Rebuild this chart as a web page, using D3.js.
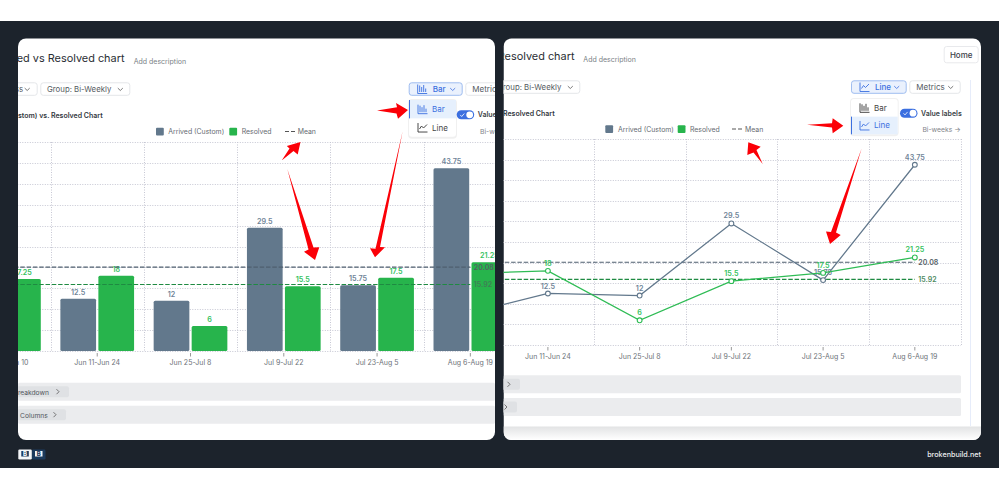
<!DOCTYPE html>
<html><head><meta charset="utf-8">
<script src="https://cdn.jsdelivr.net/npm/d3@7/dist/d3.min.js"></script>
<style>html,body{margin:0;padding:0;background:#fff;overflow:hidden}svg{display:block;font-family:Inter,"Noto Sans",sans-serif}</style>
</head><body><svg id="c" width="999" height="489"></svg>
<script>
const categories=["May 28-Jun 10","Jun 11-Jun 24","Jun 25-Jul 8","Jul 9-Jul 22","Jul 23-Aug 5","Aug 6-Aug 19"];
const arrived=[7,12.5,12,29.5,15.75,43.75];
const resolved=[17.25,18,6,15.5,17.5,21.25];
const arrivedMean=20.08, resolvedMean=15.92;
const yTicks=[0,5,10,15,20,25,30,35,40,45,50];
const SLATE="#62788c",GREEN="#27b44c",LABELG="#35c25e",BLUE="#3b6fe0",DARK="#1c232c",TXT="#5f6670",GRID="#c6c7d3";
const svg=d3.select("#c");
svg.append("rect").attr("y",21).attr("width",999).attr("height",447).attr("fill",DARK);
const defs=svg.append("defs");
const grad=defs.append("linearGradient").attr("id","sh").attr("x1",0).attr("x2",0).attr("y1",0).attr("y2",1);
grad.append("stop").attr("offset",0).attr("stop-color","#e2e3e4");grad.append("stop").attr("offset",1).attr("stop-color","#ffffff");

function text(g,x,y,s,o={}){return g.append("text").attr("x",x).attr("y",y).text(s)
  .attr("font-size",o.size||8).attr("font-weight",o.weight||400).attr("fill",o.fill||TXT).attr("text-anchor",o.anchor||"start");}
function btn(g,x,y,w,h,o={}){g.append("rect").attr("x",x+.5).attr("y",y+.5).attr("width",w-1).attr("height",h-1).attr("rx",2.5)
  .attr("fill",o.fill||"#fff").attr("stroke",o.stroke||"#e4e6e9");}
function chev(g,x,y,c){g.append("path").attr("d",`M${x-2.5},${y-1.2}L${x},${y+1.2}L${x+2.5},${y-1.2}`).attr("fill","none").attr("stroke",c||"#555").attr("stroke-width",.8);}
function barIcon(g,x,y,c){g.append("path").attr("d",`M${x},${y}V${y+9}H${x+9.5}M${x+2},${y+7.5}V${y+1}M${x+4},${y+7.5}V${y+2.5}M${x+6},${y+7.5}V${y+.5}M${x+8},${y+7.5}V${y+4}`).attr("fill","none").attr("stroke",c).attr("stroke-width",.9);}
function lineIcon(g,x,y,c){g.append("path").attr("d",`M${x},${y}V${y+9}H${x+9.5}M${x+1.5},${y+6}L${x+3.5},${y+3}L${x+5.5},${y+5}L${x+9},${y+1.5}`).attr("fill","none").attr("stroke",c).attr("stroke-width",.9);}
function arrow(g,pts){g.append("polygon").attr("points",pts.map(p=>p.join(",")).join(" ")).attr("fill","#fb0007");}

function panel(o){
  const cid="clip"+o.id;
  defs.append("clipPath").attr("id",cid).append("rect").attr("x",o.x0).attr("y",38.5).attr("width",o.x1-o.x0).attr("height",401.5).attr("rx",8);
  const g=svg.append("g").attr("clip-path",`url(#${cid})`);
  g.append("rect").attr("x",o.x0).attr("y",38).attr("width",o.x1-o.x0).attr("height",402).attr("fill","#fff");
  if(o.type==="line"){
    g.append("rect").attr("x",o.x0).attr("y",426.5).attr("width",o.x1-o.x0).attr("height",13.5).attr("fill","url(#sh)");
    g.append("line").attr("x1",970.5).attr("x2",970.5).attr("y1",80).attr("y2",426).attr("stroke","#e6ecfa");
  }
  const x=d3.scaleBand().domain(categories).range(o.xr);
  const y=d3.scaleLinear().domain([0,50]).range(o.yr);
  const cx=d=>x(d)+x.bandwidth()/2;
  // grid
  const gy=g.append("g").attr("transform",`translate(${o.xr[0]},0)`).call(d3.axisLeft(y).tickValues(yTicks).tickSize(-(o.xr[1]-o.xr[0])).tickFormat(""));
  gy.select(".domain").remove();
  gy.selectAll(".tick").attr("transform",d=>`translate(0,${Math.round(y(d))+.5})`);
  gy.selectAll("line").attr("stroke",GRID).attr("stroke-width",1).attr("stroke-dasharray","1 1.5");
  const edges=categories.map(c=>x(c)).concat(o.xr[1]);
  g.append("g").selectAll("line").data(edges).join("line").attr("x1",d=>Math.round(d)+.5).attr("x2",d=>Math.round(d)+.5).attr("y1",o.yr[1]).attr("y2",o.yr[0]).attr("stroke",GRID).attr("stroke-dasharray","1 1.5");
  // x axis
  const ax=g.append("g").attr("transform",`translate(0,${o.yr[0]+2})`).call(d3.axisBottom(x).tickSize(3.5).tickPadding(3.5));
  ax.select(".domain").remove();
  ax.selectAll("line").attr("stroke","#999");
  ax.selectAll("text").attr("font-size",7).attr("font-family","Inter").attr("fill","#6d7278");

  if(o.type==="bar"){
    const bw=35.7, gap=2.3;
    const s=[[arrived,SLATE,"#6f8498",-1],[resolved,GREEN,LABELG,1]];
    s.forEach(([vals,col,lab,side])=>{
      const bx=c=>side<0?cx(c)-gap/2-bw:cx(c)+gap/2;
      g.append("g").selectAll("rect").data(categories).join("rect")
        .attr("x",bx).attr("width",bw).attr("y",(c,i)=>y(vals[i])).attr("height",(c,i)=>y(0)-y(vals[i])).attr("rx",1.5).attr("fill",col);
      g.append("g").selectAll("text").data(categories).join("text")
        .attr("x",c=>bx(c)+bw/2).attr("y",(c,i)=>y(vals[i])-4).attr("text-anchor","middle").attr("font-size",7.2).attr("font-weight",600).attr("fill",lab).text((c,i)=>vals[i]);
    });
  }
  // mean lines
  const mx=cx(categories[5]);
  [[arrivedMean,"#4f5f6f","#555f66"],[resolvedMean,"#1f8a42",o.type==="bar"?"#3f7f55":"#4d8a60"]].forEach(([m,c,lc])=>{
    g.append("line").attr("x1",o.xr[0]).attr("x2",mx).attr("y1",y(m)).attr("y2",y(m)).attr("stroke",c).attr("stroke-width",1.15).attr("stroke-dasharray","4.5 1.8");
    text(g,mx+3.5,y(m)+2.5,m,{size:7,weight:600,fill:lc});
  });
  if(o.type==="line"){
    const ln=d3.line().x((d,i)=>cx(categories[i])).y(d=>y(d));
    [[arrived,SLATE,"#6f8498"],[resolved,"#2fbc55",LABELG]].forEach(([vals,col,lab])=>{
      g.append("path").attr("d",ln(vals)).attr("fill","none").attr("stroke",col).attr("stroke-width",1.25);
      g.append("g").selectAll("circle").data(categories).join("circle").attr("cx",cx).attr("cy",(c,i)=>y(vals[i])).attr("r",2.4).attr("fill","#fff").attr("stroke",col).attr("stroke-width",1.1);
      g.append("g").selectAll("text").data(categories).join("text").attr("x",cx).attr("y",(c,i)=>y(vals[i])-5).attr("text-anchor","middle").attr("font-size",7.2).attr("font-weight",600).attr("fill",lab).text((c,i)=>vals[i]);
    });
  }
  // header
  text(g,o.titleEnd,o.titleY,o.title,{size:10.9,fill:"#2a2e34",anchor:"end"});
  text(g,o.descX,o.titleY+2,"Add description",{size:7,fill:"#7a7f86"});
  btn(g,o.x0-60,o.btnY,o.g0End-o.x0+60,13.5);
  btn(g,o.groupX,o.btnY,o.groupEnd-o.groupX,13.5);
  text(g,o.groupEnd-83.3,o.btnY+9.6,"Group: Bi-Weekly",{size:7.8,fill:"#555b62"});
  chev(g,o.groupEnd-10,o.btnY+7);
  if(o.type==="bar"){text(g,o.x0-3,o.btnY+9.6,"ss",{size:7.8,fill:"#555b62"});chev(g,o.g0End-10.5,o.btnY+7);}
  // chart type button
  btn(g,o.typeX,o.btnY,o.typeW,13.5,{fill:"#eaf1fd",stroke:"#9fbdf0"});
  const label=o.type==="bar"?"Bar":"Line";
  (o.type==="bar"?barIcon:lineIcon)(g,o.typeX+9,o.btnY+2.2,BLUE);
  text(g,o.typeX+24,o.btnY+9.6,label,{size:8,weight:500,fill:BLUE});
  chev(g,o.typeX+o.typeW-10,o.btnY+7,BLUE);
  btn(g,o.metX,o.btnY,o.metW,13.5);
  text(g,o.metX+7,o.btnY+9.6,"Metrics",{size:8,fill:"#555b62"});
  chev(g,o.metX+o.metW-10,o.btnY+7);
  // subtitle
  text(g,o.subX,o.subY,o.sub,{size:7,weight:600,fill:"#33383e"});
  // toggle
  g.append("rect").attr("x",o.togX).attr("y",o.togY).attr("width",17.5).attr("height",9).attr("rx",4.5).attr("fill",BLUE);
  g.append("circle").attr("cx",o.togX+13).attr("cy",o.togY+4.5).attr("r",3.4).attr("fill","#fff");
  g.append("path").attr("d",`M${o.togX+3.5},${o.togY+4.6}l1.5,1.6l2.6,-3`).attr("fill","none").attr("stroke","#fff").attr("stroke-width",.8);
  text(g,o.togX+21,o.togY+7,"Value labels",{size:7,weight:600,fill:"#3a3f46"});
  // legend
  const lg=o.legend;
  g.append("rect").attr("x",lg[0]).attr("y",o.legY-3.8).attr("width",7.8).attr("height",7.8).attr("rx",1).attr("fill",SLATE);
  text(g,lg[1],o.legY+2.6,"Arrived (Custom)",{size:6.9,fill:"#666b72"});
  g.append("rect").attr("x",lg[2]).attr("y",o.legY-3.8).attr("width",7.8).attr("height",7.8).attr("rx",1).attr("fill",GREEN);
  text(g,lg[3],o.legY+2.6,"Resolved",{size:6.9,fill:"#666b72"});
  g.append("line").attr("x1",lg[4]).attr("x2",lg[4]+10).attr("y1",o.legY).attr("y2",o.legY).attr("stroke","#555").attr("stroke-dasharray","4 2");
  text(g,lg[5],o.legY+2.6,"Mean",{size:6.9,fill:"#666b72"});
  text(g,o.biX,o.legY+2.6,"Bi-weeks →",{size:6.8,fill:"#7f848a",anchor:o.biAnchor});
  // dropdown
  const dd=o.dd;
  g.append("rect").attr("x",dd.x-1).attr("y",dd.y-1).attr("width",dd.w+2).attr("height",dd.h+3).attr("rx",4).attr("fill","#000").attr("opacity",.06);
  g.append("rect").attr("x",dd.x).attr("y",dd.y).attr("width",dd.w).attr("height",dd.h).attr("rx",3).attr("fill","#fff");
  const rh=dd.h/2, active=o.type==="bar"?0:1;
  g.append("rect").attr("x",dd.x).attr("y",dd.y+active*rh).attr("width",dd.w).attr("height",rh).attr("fill","#e6f0fd");
  g.append("rect").attr("x",dd.x).attr("y",dd.y+active*rh).attr("width",1).attr("height",rh).attr("fill",BLUE);
  barIcon(g,dd.x+9,dd.y+rh/2-4.5,active===0?BLUE:"#333");
  lineIcon(g,dd.x+9,dd.y+rh*1.5-4.5,active===1?BLUE:"#333");
  text(g,dd.x+23,dd.y+rh/2+3,"Bar",{size:8,fill:active===0?BLUE:"#444"});
  text(g,dd.x+23,dd.y+rh*1.5+3,"Line",{size:8,fill:active===1?BLUE:"#444"});
  // bottom bars
  o.rows.forEach(r=>{
    g.append("rect").attr("x",o.x0).attr("y",r.y).attr("width",o.rowEnd-o.x0).attr("height",18).attr("rx",1.5).attr("fill","#ebecee");
    g.append("rect").attr("x",o.x0-20).attr("y",r.y+3.5).attr("width",r.end-o.x0+20).attr("height",11).attr("rx",2).attr("fill","#dfe1e4");
    if(r.t) text(g,r.tx,r.y+11.8,r.t,{size:6.7,fill:"#50555c"});
    g.append("path").attr("d",`M${r.end-12.5},${r.y+6.5}l2.5,2.5l-2.5,2.5`).attr("fill","none").attr("stroke","#555").attr("stroke-width",.8);
  });
  if(o.home){btn(g,943.7,46,35,17.3,{stroke:"#e8e9ec"});text(g,961.2,57.5,"Home",{size:8,weight:500,fill:"#3c4148",anchor:"middle"});}
  o.arrows.forEach(a=>arrow(g,a));
}

panel({id:"L",type:"bar",x0:18,x1:495,xr:[-42.7,517],yr:[351,142],title:"Created vs Resolved chart",titleEnd:124.5,titleY:61.5,descX:133.7,
  btnY:82.3,g0End:37.7,groupX:40.3,groupEnd:130.3,typeX:408.7,typeW:54,metX:465.3,metW:56,
  sub:"stom) vs. Resolved Chart",subX:18,subY:118,togX:456.7,togY:110.3,legY:131.5,legend:[156,168.3,229.3,241.7,285,297.7],biX:480,biAnchor:"start",
  dd:{x:409,y:100,w:47,h:36.7},rowEnd:495,
  rows:[{y:382.7,end:69,t:"Breakdown",tx:13.5},{y:405.7,end:66,t:"Columns",tx:20}],
  arrows:[[[377,110.6],[397,107.3],[396,103],[408,110],[398,118.7],[396.5,113.6]],
    [[300.5,142],[297.7,154.5],[293.5,151],[281.7,160.5],[289.5,148.5],[286.8,146]],
    [[287.3,169],[313.5,247.5],[319.3,247.3],[315,260],[304,251.7],[308.5,249.5]],
    [[402.7,131],[380,247],[385,247.3],[375,257.3],[370,248.3],[375.5,248.7]]]});
panel({id:"R",type:"line",x0:503.5,x1:981,xr:[410.3,960.7],yr:[345,139],home:true,title:"Created vs Resolved chart",titleEnd:574.5,titleY:60,descX:583.3,
  btnY:80.3,g0End:470,groupX:450,groupEnd:580.3,typeX:851,typeW:55.7,metX:909.3,metW:51.4,
  sub:"Resolved Chart",subX:503,subY:116,togX:900,togY:108.7,legY:129,legend:[605.3,618,677.7,690,732,745],biX:960.7,biAnchor:"end",
  dd:{x:851,y:99,w:46.7,h:35.3},rowEnd:961,
  rows:[{y:375.3,end:520},{y:398,end:517}],
  arrows:[[[807,124.8],[832,123.3],[832.7,118.3],[843.3,125.7],[832.7,133.3],[832,127.6]],
    [[748.3,142.3],[760.7,146.7],[756.5,150],[762.7,164],[753.5,152.6],[747.3,155]],
    [[861.7,148.3],[836,232.5],[840.7,235],[830,244],[826,231.5],[831,232]]]});

// footer
const logo=svg.append("g");
[[18.3,"#f4f6f8","#1c3a5c"],[32,"#1c3a5c","#f4f6f8"]].forEach(([x,bg,fg])=>{
  logo.append("rect").attr("x",x).attr("y",449.5).attr("width",13.5).attr("height",10).attr("rx",1.2).attr("fill",bg);
  logo.append("rect").attr("x",x+3).attr("y",451).attr("width",7.5).attr("height",5.5).attr("fill",fg);
  text(logo,x+6.75,456,"B",{size:6,weight:800,fill:bg,anchor:"middle"});
});
text(svg,981,457,"brokenbuild.net",{size:7.2,weight:500,fill:"#eceef0",anchor:"end"});
</script></body></html>
